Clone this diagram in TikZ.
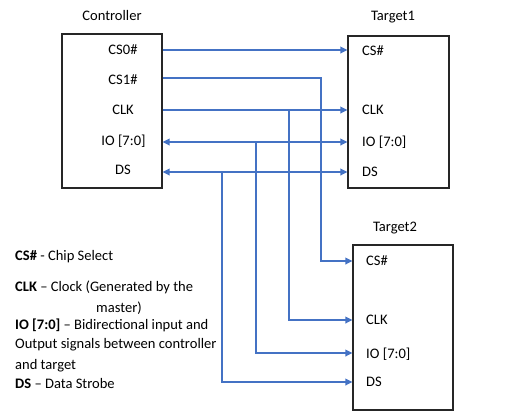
\documentclass[tikz,border=0pt]{standalone}
\usepackage{fontspec}
\setmainfont{Carlito}
\usetikzlibrary{arrows.meta}
\definecolor{lineblue}{RGB}{68,114,196}
\tikzset{
  box/.style={draw=black!85, line width=1.1bp, inner sep=0pt, fill=none},
  lbl/.style={inner sep=0pt, anchor=base, font=\fontsize{14.6}{17}\selectfont},
  lblw/.style={inner sep=0pt, anchor=base west, font=\fontsize{14.6}{17}\selectfont},
  wire/.style={draw=lineblue, line width=2bp},
  arr/.style={wire, -{Triangle[length=7bp,width=6.5bp]}},
  biarr/.style={wire, {Triangle[length=7bp,width=6.5bp]}-{Triangle[length=7bp,width=6.5bp]}},
}
\begin{document}
\begin{tikzpicture}[x=1bp,y=-1bp]
\useasboundingbox (0,0) rectangle (521,418);
% boxes
\node[box, minimum width=100bp, minimum height=154bp] (ctrl) at (112,111) {};
\node[box, minimum width=101bp, minimum height=152bp] (t1) at (398.5,112) {};
\node[box, minimum width=100bp, minimum height=165bp] (t2) at (403,327.5) {};
% titles
\node[lbl] (ctrlt) at (112,20) {Controller};
\node[lbl] (t1t) at (393,20) {Target1};
\node[lbl] (t2t) at (395,231) {Target2};
% controller labels
\node[lbl] (ccs0) at (123,54) {CS0\#};
\node[lbl] (ccs1) at (123,84) {CS1\#};
\node[lbl] (cclk) at (123,114) {CLK};
\node[lbl] (cio) at (123.5,145.4) {IO [7:0]};
\node[lbl] (cds) at (123,174.7) {DS};
% target1 labels
\node[lblw] (acs) at (362,55.4) {CS\#};
\node[lblw] (aclk) at (362,114.7) {CLK};
\node[lblw] (aio) at (362,146.4) {IO [7:0]};
\node[lblw] (ads) at (362,176.4) {DS};
% target2 labels
\node[lblw] (bcs) at (366,265.4) {CS\#};
\node[lblw] (bclk) at (366,324.7) {CLK};
\node[lblw] (bio) at (366,358) {IO [7:0]};
\node[lblw] (bds) at (366,386.7) {DS};
% wire levels
\coordinate (ycs0) at (0,50);
\coordinate (ycs1) at (0,78);
\coordinate (yclk) at (0,110);
\coordinate (yio) at (0,142);
\coordinate (yds) at (0,172);
\coordinate (ybcs) at (0,261);
\coordinate (ybclk) at (0,320);
\coordinate (ybio) at (0,353);
\coordinate (ybds) at (0,382);
% branch columns
\coordinate (xcs1) at (321,0);
\coordinate (xclk) at (289,0);
\coordinate (xio) at (256,0);
\coordinate (xds) at (222,0);
% wires
\draw[arr] (ctrl.east |- ycs0) -- (t1.west |- ycs0);
\draw[arr] (ctrl.east |- ycs1) -| (xcs1 |- ybcs) -- (t2.west |- ybcs);
\draw[arr] (ctrl.east |- yclk) -- (t1.west |- yclk);
\draw[arr] (xclk |- yclk) |- (t2.west |- ybclk);
\draw[biarr] (ctrl.east |- yio) -- (t1.west |- yio);
\draw[arr] (xio |- yio) |- (t2.west |- ybio);
\draw[biarr] (ctrl.east |- yds) -- (t1.west |- yds);
\draw[arr] (xds |- yds) |- (t2.west |- ybds);
% legend
\node[lblw] (l1) at (15,260.7) {\textbf{CS\#} - Chip Select};
\node[lblw] (l2) at (15,291.4) {\textbf{CLK} – Clock (Generated by the};
\node[lblw] (l3) at (96,312.7) {master)};
\node[lblw] (l4) at (15,329.7) {\textbf{IO [7:0]} – Bidirectional input and};
\node[lblw] (l5) at (15,348.7) {Output signals between controller};
\node[lblw] (l6) at (15,369.7) {and target};
\node[lblw] (l7) at (15,388.7) {\textbf{DS} – Data Strobe};
\end{tikzpicture}
\end{document}
